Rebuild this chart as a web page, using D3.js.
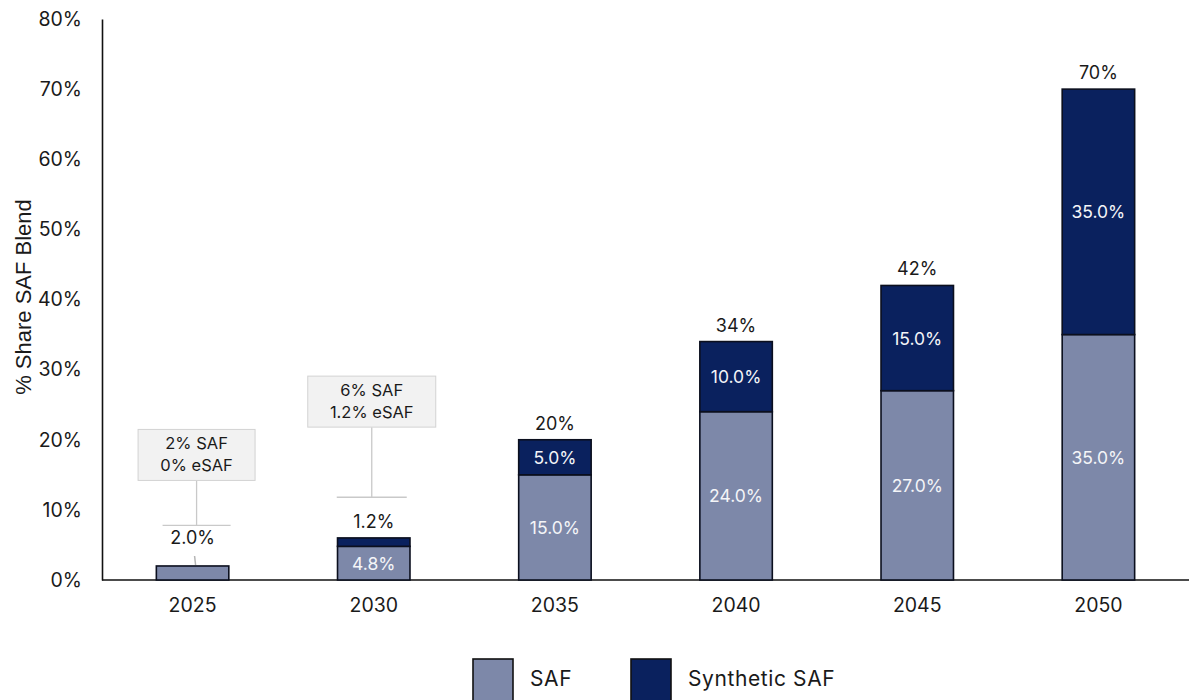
<!DOCTYPE html>
<html>
<head>
<meta charset="utf-8">
<script src="https://cdn.jsdelivr.net/npm/d3@7"></script>
<style>
  html, body { margin: 0; padding: 0; background: #fff; }
  svg { display: block; }
</style>
</head>
<body>
<svg id="chart" width="1190" height="700"></svg>
<script>
// Blend mandate shares by year (percent of total jet fuel)
const years = ["2025", "2030", "2035", "2040", "2045", "2050"];
const safShare = [2.0, 4.8, 15.0, 24.0, 27.0, 35.0];
const syntheticShare = [0.0, 1.2, 5.0, 10.0, 15.0, 35.0];
const totalLabels = ["2.0%", "1.2%", "20%", "34%", "42%", "70%"];
const yTicks = [0, 10, 20, 30, 40, 50, 60, 70, 80];
const seriesNames = ["SAF", "Synthetic SAF"];
const callouts = [
  { year: "2025", lines: ["2% SAF", "0% eSAF"] },
  { year: "2030", lines: ["6% SAF", "1.2% eSAF"] }
];

(function () {
  const colors = { "SAF": "#7d88a9", "Synthetic SAF": "#0a215e" };
  const font = "'Inter', 'Noto Sans', sans-serif";

  const svg = d3.select("#chart");
  const plotLeft = 102, plotRight = 1189, plotTop = 19, plotBottom = 580;

  const x = d3.scaleBand().domain(years).range([plotLeft, plotRight]).paddingInner(0.6).paddingOuter(0.3);
  const y = d3.scaleLinear().domain([0, 80]).range([plotBottom, plotTop]);

  // Y axis: line plus percent labels
  const yAxis = d3.axisLeft(y).tickValues(yTicks).tickFormat(d => d + "%").tickSize(0).tickPadding(20);
  const gy = svg.append("g").attr("transform", `translate(${plotLeft},0)`).call(yAxis);
  gy.select(".domain").attr("stroke", "#111").attr("stroke-width", 1.6);
  gy.selectAll("text").attr("font-family", font).attr("font-size", 19.5).attr("fill", "#1a1a1a");

  // X axis
  const xAxis = d3.axisBottom(x).tickSize(0).tickPadding(18);
  const gx = svg.append("g").attr("transform", `translate(0,${plotBottom})`).call(xAxis);
  gx.select(".domain").attr("stroke", "#111").attr("stroke-width", 1.6).attr("d", `M${plotLeft},0H${plotRight}`);
  gx.selectAll("text").attr("font-family", font).attr("font-size", 19.5).attr("fill", "#1a1a1a");

  // Y axis title
  svg.append("text")
    .attr("transform", `translate(31,297) rotate(-90)`)
    .attr("text-anchor", "middle")
    .attr("font-family", "'Liberation Sans', Arial, sans-serif")
    .attr("font-size", 22)
    .attr("fill", "#1a1a1a")
    .text("% Share SAF Blend");

  // Stacked bars
  const rows = years.map((yr, i) => ({ year: yr, "SAF": safShare[i], "Synthetic SAF": syntheticShare[i] }));
  const stack = d3.stack().keys(seriesNames)(rows);

  const bars = svg.append("g");
  stack.forEach(layer => {
    layer.forEach(seg => {
      if (seg[1] - seg[0] <= 0) return;
      bars.append("rect")
        .attr("x", x(seg.data.year))
        .attr("width", x.bandwidth())
        .attr("y", y(seg[1]))
        .attr("height", y(seg[0]) - y(seg[1]))
        .attr("fill", colors[layer.key])
        .attr("stroke", "#0b0f1e")
        .attr("stroke-width", 1.6);
    });
  });

  // Segment value labels inside the bars (only where the segment is tall enough)
  stack.forEach(layer => {
    layer.forEach(seg => {
      const v = seg[1] - seg[0];
      if (y(seg[0]) - y(seg[1]) < 22) return;
      bars.append("text")
        .attr("x", x(seg.data.year) + x.bandwidth() / 2)
        .attr("y", (y(seg[0]) + y(seg[1])) / 2 + 6.5)
        .attr("text-anchor", "middle")
        .attr("font-family", font)
        .attr("font-size", 17.5)
        .attr("fill", "#f4f5f8")
        .text(v.toFixed(1) + "%");
    });
  });

  // Labels above each bar
  const aboveOffset = [22, 10, 10, 10, 10, 10];
  years.forEach((yr, i) => {
    const topVal = safShare[i] + syntheticShare[i];
    const cx = x(yr) + x.bandwidth() / 2;
    svg.append("text")
      .attr("x", cx)
      .attr("y", y(topVal) - aboveOffset[i])
      .attr("text-anchor", "middle")
      .attr("font-family", font)
      .attr("font-size", 18)
      .attr("fill", "#1a1a1a")
      .text(totalLabels[i]);
  });

  // Small leader between the 2025 label and its bar
  {
    const cx = x("2025") + x.bandwidth() / 2 + 2;
    svg.append("line")
      .attr("x1", cx).attr("x2", cx + 1)
      .attr("y1", y(safShare[0]) - 10).attr("y2", y(safShare[0]) - 1)
      .attr("stroke", "#b5b5b5").attr("stroke-width", 1.5);
  }

  // Policy callouts: boxed note with a stem ending in a short horizontal bar
  const calloutLayout = {
    "2025": { barVal: 7.8, boxBottomVal: 14.2, boxW: 117, boxH: 51, dx: 4, barHalf: 34 },
    "2030": { barVal: 11.8, boxBottomVal: 21.8, boxW: 128, boxH: 51, dx: -2, barHalf: 35 }
  };
  callouts.forEach(c => {
    const L = calloutLayout[c.year];
    const cx = x(c.year) + x.bandwidth() / 2 + L.dx;
    const g = svg.append("g");
    const yBar = y(L.barVal), yBox = y(L.boxBottomVal);
    g.append("line").attr("x1", cx - L.barHalf).attr("x2", cx + L.barHalf)
      .attr("y1", yBar).attr("y2", yBar).attr("stroke", "#c9c9c9").attr("stroke-width", 1.3);
    g.append("line").attr("x1", cx).attr("x2", cx)
      .attr("y1", yBar).attr("y2", yBox).attr("stroke", "#c9c9c9").attr("stroke-width", 1.3);
    g.append("rect")
      .attr("x", cx - L.boxW / 2).attr("y", yBox - L.boxH)
      .attr("width", L.boxW).attr("height", L.boxH)
      .attr("fill", "#f2f2f2").attr("stroke", "#d2d2d2").attr("stroke-width", 1);
    c.lines.forEach((t, k) => {
      g.append("text")
        .attr("x", cx)
        .attr("y", yBox - L.boxH + 20 + k * 22)
        .attr("text-anchor", "middle")
        .attr("font-family", font)
        .attr("font-size", 16.5)
        .attr("fill", "#1a1a1a")
        .text(t);
    });
  });

  // Legend
  const legend = svg.append("g").attr("transform", "translate(473,659)");
  const legendX = [0, 158];
  seriesNames.forEach((name, i) => {
    const g = legend.append("g").attr("transform", `translate(${legendX[i]},0)`);
    g.append("rect").attr("x", 0).attr("y", 0).attr("width", 40).attr("height", 42)
      .attr("fill", colors[name]).attr("stroke", "#111").attr("stroke-width", 1.6);
    g.append("text").attr("x", 57).attr("y", 27)
      .attr("font-family", font).attr("font-size", 21).attr("letter-spacing", 0.6)
      .attr("fill", "#1a1a1a")
      .text(name);
  });
})();
</script>
</body>
</html>
